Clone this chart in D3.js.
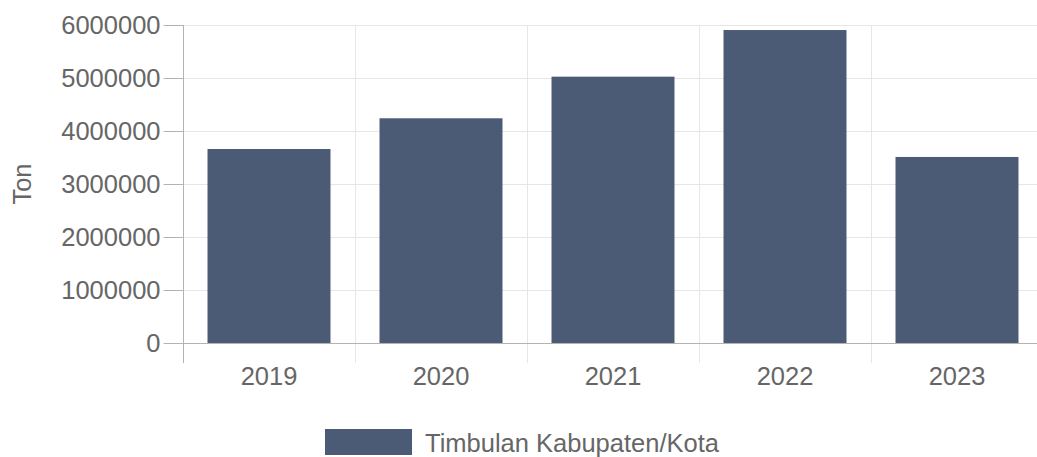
<!DOCTYPE html>
<html lang="id">
<head>
  <meta charset="UTF-8">
  <title>Timbulan Kabupaten/Kota</title>
  <script src="https://d3js.org/d3.v7.min.js"></script>
  <style>
    body {
      margin: 0;
      overflow: hidden;
      background: #fff;
      font-family: "Liberation Sans", Arial, sans-serif;
    }
    .grid line {
      stroke: #e6e6e6;
      stroke-width: 1;
    }
    .axis text {
      fill: #666;
      font-size: 25.5px;
    }
    .axis path, .axis line {
      stroke: #b3b3b3;
    }
  </style>
</head>
<body>
<svg></svg>
<script>
  // Data
  const years = ["2019", "2020", "2021", "2022", "2023"];
  const timbulan = [3660000, 4240000, 5025000, 5905000, 3510000];
  const yTicks = [0, 1000000, 2000000, 3000000, 4000000, 5000000, 6000000];
  const seriesName = "Timbulan Kabupaten/Kota";
  const yLabel = "Ton";

  const width = 1037, height = 457;
  const margin = {top: 25, left: 183, bottom: 114};
  const plotRight = 1043;  // plot runs slightly past the window edge
  const color = "#4b5b76";

  const svg = d3.select("svg")
    .attr("width", width)
    .attr("height", height);

  const x = d3.scaleBand()
    .domain(years)
    .range([margin.left, plotRight])
    .paddingInner(0.285)
    .paddingOuter(0.1425);

  const y = d3.scaleLinear()
    .domain([0, 6000000])
    .range([height - margin.bottom, margin.top]);

  const step = x.step();
  const bandEdges = years.map((d, i) => margin.left + i * step).concat([plotRight]);

  // Horizontal grid lines
  svg.append("g")
    .attr("class", "grid")
    .selectAll("line")
    .data(yTicks.slice(1))
    .join("line")
    .attr("x1", margin.left)
    .attr("x2", plotRight)
    .attr("y1", d => Math.round(y(d)) + 0.5)
    .attr("y2", d => Math.round(y(d)) + 0.5);

  // Vertical grid lines between categories
  svg.append("g")
    .attr("class", "grid")
    .selectAll("line")
    .data(bandEdges.slice(1))
    .join("line")
    .attr("x1", d => Math.round(d) + 0.5)
    .attr("x2", d => Math.round(d) + 0.5)
    .attr("y1", margin.top)
    .attr("y2", y(0) + 20);

  // Bars
  svg.append("g")
    .selectAll("rect")
    .data(years.map((d, i) => ({year: d, value: timbulan[i]})))
    .join("rect")
    .attr("x", d => x(d.year))
    .attr("y", d => y(d.value))
    .attr("width", x.bandwidth())
    .attr("height", d => y(0) - y(d.value))
    .attr("fill", color);

  // Y axis
  const yAxis = svg.append("g")
    .attr("class", "axis")
    .attr("transform", `translate(${margin.left + 0.5},0)`)
    .call(d3.axisLeft(y).tickValues(yTicks).tickFormat(d3.format("d")).tickSize(20).tickPadding(3).tickSizeOuter(0));
  yAxis.select(".domain").remove();
  yAxis.selectAll("text").attr("dy", "0.35em");

  // X axis baseline and category ticks
  const xAxis = svg.append("g")
    .attr("class", "axis");
  xAxis.append("line")
    .attr("x1", margin.left)
    .attr("x2", plotRight)
    .attr("y1", y(0) + 0.5)
    .attr("y2", y(0) + 0.5);
  xAxis.selectAll("line.tick")
    .data(bandEdges.slice(0, 1))
    .join("line")
    .attr("class", "tick")
    .attr("x1", d => Math.round(d) + 0.5)
    .attr("x2", d => Math.round(d) + 0.5)
    .attr("y1", margin.top)
    .attr("y2", y(0) + 20);
  xAxis.selectAll("text")
    .data(years)
    .join("text")
    .attr("x", d => x(d) + x.bandwidth() / 2)
    .attr("y", y(0) + 42)
    .attr("text-anchor", "middle")
    .text(d => d);

  // Y axis title
  svg.append("text")
    .attr("transform", `translate(31,${(y(0) + margin.top) / 2}) rotate(-90)`)
    .attr("text-anchor", "middle")
    .attr("fill", "#666")
    .attr("font-size", 25.5)
    .text(yLabel);

  // Legend
  const legend = svg.append("g");
  legend.append("rect")
    .attr("x", 325)
    .attr("y", 429)
    .attr("width", 87)
    .attr("height", 26)
    .attr("fill", color);
  legend.append("text")
    .attr("x", 425)
    .attr("y", 452)
    .attr("fill", "#666")
    .attr("font-size", 25.5)
    .text(seriesName);
</script>
</body>
</html>
